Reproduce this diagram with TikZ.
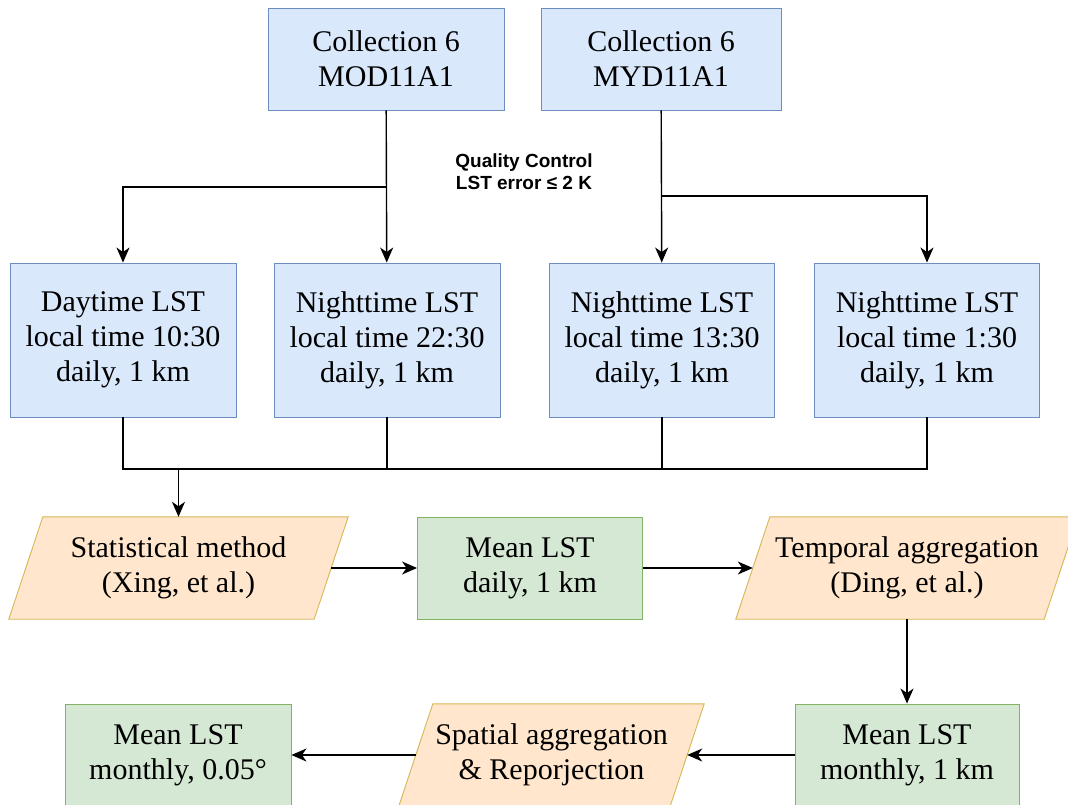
\documentclass[tikz,border=0pt]{standalone}
\usepackage{fontspec}
\setmainfont{Liberation Serif}
\newfontfamily\qcfont{Liberation Sans}
\usetikzlibrary{arrows.meta,positioning}
\definecolor{bluefill}{HTML}{DAE8FC}
\definecolor{blueline}{HTML}{6C8EBF}
\definecolor{greenfill}{HTML}{D5E8D4}
\definecolor{greenline}{HTML}{82B366}
\definecolor{orangefill}{HTML}{FFE6CC}
\definecolor{orangeline}{HTML}{D6B656}
\pgfdeclarelayer{background}
\pgfsetlayers{background,main}

\begin{document}
\begin{tikzpicture}[x=1pt, y=-1pt,
  bx/.style={draw=blueline, fill=bluefill, line width=0.9pt, align=center,
             inner sep=0pt, font=\fontsize{30}{35}\selectfont},
  lbx/.style={bx, minimum height=154pt},
  gbx/.style={bx, draw=greenline, fill=greenfill, minimum height=102pt},
  pbx/.style={align=center, inner sep=0pt, minimum height=102pt,
              font=\fontsize{30}{35}\selectfont},
  pline/.style={draw=orangeline, fill=orangefill, line width=0.9pt},
  ln/.style={line width=1.4pt},
  ar/.style={ln, -{Stealth[length=15pt,width=13pt,inset=4.5pt]}}]
\useasboundingbox (0,0) rectangle (1068,805);
% sources
\node[bx, minimum width=236pt, minimum height=102pt] (mod) at (386,59) {Collection 6\\MOD11A1};
\node[bx, minimum width=240pt, minimum height=102pt] (myd) at (661,59) {Collection 6\\MYD11A1};
\node[font=\qcfont\bfseries\fontsize{19}{22}\selectfont, align=center] (qc) at (524,172)
  {Quality Control\\LST error ≤ 2 K};
% daily products
\node[lbx, minimum width=226pt] (day) at (123,340) {Daytime LST\\local time 10:30\\daily, 1 km};
\node[lbx, minimum width=226pt] (ntA) at (387,340) {Nighttime LST\\local time 22:30\\daily, 1 km};
\node[lbx, minimum width=225pt] (ntB) at (662,340) {Nighttime LST\\local time 13:30\\daily, 1 km};
\node[lbx, minimum width=225pt] (ntC) at (927,340) {Nighttime LST\\local time 1:30\\daily, 1 km};
% processing chain (parallelograms drawn behind, slant 34)
\node[pbx, minimum width=305pt] (stat) at (178.5,568) {Statistical method\\(Xing, et al.)};
\node[gbx, minimum width=225pt] (mday) at (530,568) {Mean LST\\daily, 1 km};
\node[pbx, minimum width=308pt] (temp) at (907,568) {Temporal aggregation\\(Ding, et al.)};
\node[gbx, minimum width=224pt] (mmon) at (907,755) {Mean LST\\monthly, 1 km};
\node[pbx, minimum width=271pt] (spat) at (551.5,755) {Spatial aggregation\\\& Reporjection};
\node[gbx, minimum width=226pt] (mdeg) at (178,755) {Mean LST\\monthly, 0.05°};
\begin{pgfonlayer}{background}
\foreach \n in {stat,temp,spat}
  \draw[pline] ([xshift=-17pt]\n.south west) -- ([xshift=17pt]\n.north west)
    -- ([xshift=17pt]\n.north east) -- ([xshift=-17pt]\n.south east) -- cycle;
\end{pgfonlayer}
% connectors
\coordinate (qa) at (386,187);
\coordinate (qb) at (661,196);
\coordinate (bus) at (178.5,469);
\draw[ar] (mod) -- (ntA);
\draw[ar] (qa) -| (day);
\draw[ar] (myd) -- (ntB);
\draw[ar] (qb) -| (ntC);
\draw[ln] (day) |- (bus) -| (ntC);
\draw[ln] (ntA) -- (ntA |- bus);
\draw[ln] (ntB) -- (ntB |- bus);
\draw[ar] (bus) -- (stat);
\draw[ar] (stat) -- (mday);
\draw[ar] (mday) -- (temp);
\draw[ar] (temp) -- (mmon);
\draw[ar] (mmon) -- (spat);
\draw[ar] (spat) -- (mdeg);
\end{tikzpicture}
\end{document}
